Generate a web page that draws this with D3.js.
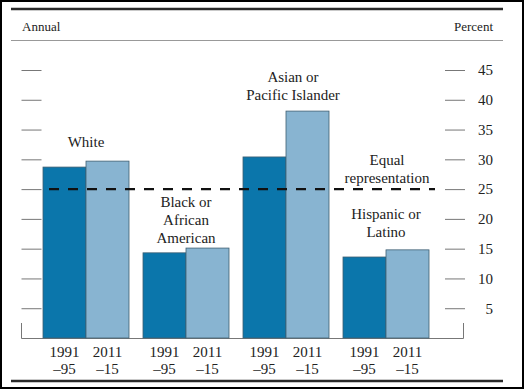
<!DOCTYPE html>
<html>
<head>
<meta charset="utf-8">
<script src="https://cdn.jsdelivr.net/npm/d3@7"></script>
<style>
  body { margin: 0; background: #fff; }
  svg text { font-family: "Liberation Serif", "Times New Roman", serif; fill: #222; }
</style>
</head>
<body>
<svg id="chart"></svg>
<script>
// data
const groups = ["White", "Black or African American", "Asian or Pacific Islander", "Hispanic or Latino"];
const periods = ["1991–95", "2011–15"];
const share1991 = [28.7, 14.3, 30.4, 13.6];
const share2011 = [29.7, 15.1, 38.1, 14.8];
const equalShare = 25;
const yTicks = [5, 10, 15, 20, 25, 30, 35, 40, 45];

const W = 524, H = 389;
const svg = d3.select("#chart").attr("width", W).attr("height", H);

const data = groups.map((g, i) => ({ group: g, values: [share1991[i], share2011[i]] }));

// scales
const x = d3.scaleBand().domain(groups).range([36, 436]).paddingInner(0.14).paddingOuter(0.07);
const xSub = d3.scaleBand().domain(periods).range([0, x.bandwidth()]);
const y = d3.scaleLinear().domain([0, 45]).range([338, 70]);
const color = d3.scaleOrdinal().domain(periods).range(["#0b76ab", "#88b4d1"]);

// frame and rules
svg.append("rect").attr("x", 1).attr("y", 1).attr("width", W - 2).attr("height", H - 2)
  .attr("fill", "none").attr("stroke", "#000").attr("stroke-width", 2);
svg.append("line").attr("x1", 11).attr("x2", 503).attr("y1", 9).attr("y2", 9)
  .attr("stroke", "#2a2a2a").attr("stroke-width", 2.5);
svg.append("line").attr("x1", 11).attr("x2", 503).attr("y1", 40.5).attr("y2", 40.5)
  .attr("stroke", "#999").attr("stroke-width", 1);
svg.append("line").attr("x1", 11).attr("x2", 503).attr("y1", 381).attr("y2", 381)
  .attr("stroke", "#2a2a2a").attr("stroke-width", 2.5);

svg.append("text").attr("x", 22).attr("y", 31).style("font-size", "13px").text("Annual");
svg.append("text").attr("x", 493).attr("y", 31).attr("text-anchor", "end").style("font-size", "13px").text("Percent");

// axes
const leftAxis = d3.axisRight(y).tickValues(yTicks).tickSize(20).tickFormat("");
svg.append("g").attr("transform", "translate(21.5,0)").call(leftAxis)
  .call(g => g.select(".domain").remove())
  .call(g => g.selectAll("line").attr("stroke", "#777"));

const rightAxis = d3.axisRight(y).tickValues(yTicks).tickSize(20);
svg.append("g").attr("transform", "translate(445,0)").call(rightAxis)
  .call(g => g.select(".domain").remove())
  .call(g => g.selectAll("line").attr("stroke", "#777"))
  .call(g => g.selectAll("text").attr("x", 48).attr("text-anchor", "end")
    .attr("font-family", null).style("font-size", "15px"));

// baseline with end ticks
svg.append("path")
  .attr("d", `M21.5,${y(0) - 15}V${y(0) + 0.5}H463.5V${y(0) - 15}`)
  .attr("fill", "none").attr("stroke", "#777");

// bars
const gBars = svg.append("g").selectAll("g").data(data).join("g")
  .attr("transform", d => `translate(${x(d.group)},0)`);

gBars.selectAll("rect").data(d => d.values.map((v, i) => ({ period: periods[i], v }))).join("rect")
  .attr("x", d => xSub(d.period))
  .attr("y", d => y(d.v))
  .attr("width", xSub.bandwidth())
  .attr("height", d => y(0) - y(d.v))
  .attr("fill", d => color(d.period))
  .attr("stroke", "#3f5f72")
  .attr("stroke-width", 0.8);

// period labels under bars
gBars.each(function () {
  const g = d3.select(this);
  periods.forEach(p => {
    const [a, b] = p.split("–");
    const cx = xSub(p) + xSub.bandwidth() / 2;
    g.append("text").attr("x", cx).attr("y", 357).attr("text-anchor", "middle").style("font-size", "15px").text(a);
    g.append("text").attr("x", cx).attr("y", 374).attr("text-anchor", "middle").style("font-size", "15px").text("–" + b.slice(-2));
  });
});

// equal representation line
svg.append("line")
  .attr("x1", x(groups[0]) + 6).attr("x2", x(groups[3]) + x.bandwidth() + 6)
  .attr("y1", y(equalShare)).attr("y2", y(equalShare))
  .attr("stroke", "#111").attr("stroke-width", 2.2).attr("stroke-dasharray", "10,9");

// group labels
const labelLines = [["White"], ["Black or", "African", "American"], ["Asian or", "Pacific Islander"], ["Hispanic or", "Latino"]];
const labelDx = [0, 0, 7, 0];
const labelGap = [14, 5, 11, 13];
data.forEach((d, i) => {
  const top = y(d3.max(d.values));
  const lines = labelLines[i];
  const cx = x(d.group) + x.bandwidth() / 2 + labelDx[i];
  lines.forEach((t, j) => {
    svg.append("text").attr("x", cx)
      .attr("y", top - labelGap[i] - (lines.length - 1 - j) * 18)
      .attr("text-anchor", "middle").style("font-size", "15px").text(t);
  });
});

const eqX = x(groups[3]) + x.bandwidth() / 2 + 1;
svg.append("text").attr("x", eqX).attr("y", y(equalShare) - 24).attr("text-anchor", "middle").style("font-size", "15px").text("Equal");
svg.append("text").attr("x", eqX).attr("y", y(equalShare) - 6).attr("text-anchor", "middle").style("font-size", "15px").text("representation");
</script>
</body>
</html>
